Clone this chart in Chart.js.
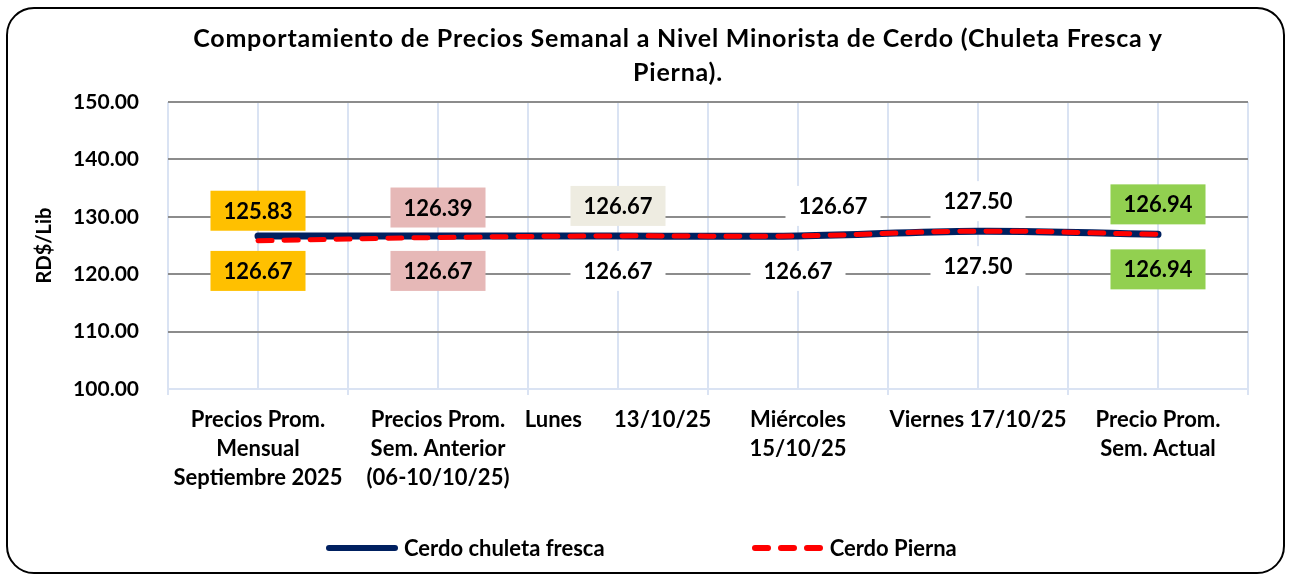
<!DOCTYPE html>
<html>
<head>
<meta charset="utf-8">
<script src="https://cdn.jsdelivr.net/npm/chart.js@4.4.1/dist/chart.umd.min.js"></script>
<style>
  html, body { margin: 0; padding: 0; background: #fff; overflow: hidden; }
  body { width: 1291px; height: 576px; position: relative; font-family: Lato, "Noto Sans", sans-serif; }
  #frame { position: absolute; left: 6px; top: 7px; width: 1275px; height: 563px; border: 2px solid #000; border-radius: 28px; pointer-events: none; }
  #title { position: absolute; left: 678px; top: 20px; transform: translateX(-50%); white-space: nowrap; text-align: center;
           font-weight: bold; font-size: 25px; letter-spacing: 0.8px; line-height: 34px; color: #000; }
  #chart { position: absolute; left: 0; top: 0; }
  #legend { position: absolute; left: 325px; top: 534px; display: flex; gap: 146px; font-weight: bold; font-size: 22px; color: #000; }
  .item { display: flex; align-items: center; }
  .item svg { margin-right: 5px; }
</style>
</head>
<body>
<canvas id="chart" width="1291" height="576"></canvas>
<div id="title">Comportamiento de Precios Semanal a Nivel Minorista de Cerdo (Chuleta Fresca y<br>Pierna).</div>
<div id="legend"></div>
<div id="frame"></div>
<script>
// categories
const categories = [
    ['Precios Prom.', 'Mensual', 'Septiembre 2025'],
    ['Precios Prom.', 'Sem. Anterior', '(06-10/10/25)'],
    ['Lunes      13/10/25'],
    ['Miércoles', '15/10/25'],
    ['Viernes 17/10/25'],
    ['Precio Prom.', 'Sem. Actual']
];
// RD$/Lib
const chuletaFresca = [126.67, 126.67, 126.67, 126.67, 127.50, 126.94];
const pierna = [125.83, 126.39, 126.67, 126.67, 127.50, 126.94];
const yTicks = [100, 110, 120, 130, 140, 150];

// label box colours (Excel style)
const piernaBoxes = ['#ffc000', '#e6b8b7', '#eeece1', '#ffffff', '#ffffff', '#92d050'];
const chuletaBoxes = ['#ffc000', '#e6b8b7', '#ffffff', '#ffffff', '#ffffff', '#92d050'];

const valueLabels = {
    id: 'valueLabels',
    afterDatasetsDraw(chart) {
        const ctx = chart.ctx;
        ctx.save();
        ctx.font = 'bold 22px Lato';
        ctx.textAlign = 'center';
        ctx.textBaseline = 'middle';
        chart.data.datasets.forEach((ds, i) => {
            chart.getDatasetMeta(i).data.forEach((pt, j) => {
                const text = ds.data[j].toFixed(2);
                const x = pt.x + (ds.labelShift ? ds.labelShift[j] : 0);
                const y = pt.y + ds.labelOffset;
                const w = ctx.measureText(text).width + 26, h = 40;
                ctx.fillStyle = ds.labelBoxes[j];
                ctx.fillRect(x - w / 2, y - h / 2, w, h);
                ctx.fillStyle = '#000';
                ctx.fillText(text, x, y + 1);
            });
        });
        ctx.restore();
    }
};

function draw() {
    const chart = new Chart(document.getElementById('chart'), {
        type: 'line',
        data: {
            labels: categories,
            datasets: [{
                label: 'Cerdo chuleta fresca',
                data: chuletaFresca,
                borderColor: '#002060',
                backgroundColor: '#002060',
                borderWidth: 7,
                borderCapStyle: 'round',
                tension: 0.4,
                pointRadius: 0,
                order: 1,
                labelOffset: 35,
                labelBoxes: chuletaBoxes
            }, {
                label: 'Cerdo Pierna',
                data: pierna,
                borderColor: '#ff0000',
                backgroundColor: '#ff0000',
                borderWidth: 5,
                borderDash: [14, 12],
                borderCapStyle: 'round',
                tension: 0.4,
                pointRadius: 0,
                order: 0,
                labelOffset: -30,
                labelShift: [0, 0, 0, 35, 0, 0],
                labelBoxes: piernaBoxes
            }]
        },
        options: {
            responsive: false,
            animation: false,
            layout: { padding: { left: 20, right: 43, top: 102, bottom: 60 } },
            plugins: {
                legend: { display: false },
                tooltip: { enabled: false }
            },
            scales: {
                x: {
                    offset: true,
                    grid: { color: '#dae3f3', lineWidth: 2, tickLength: 6, offset: true },
                    border: { color: '#dae3f3', width: 2 },
                    ticks: {
                        color: '#000',
                        font: { family: 'Lato', size: 22, weight: 'bold', lineHeight: 1.32 },
                        maxRotation: 0,
                        autoSkip: false,
                        padding: 10
                    },
                    afterFit(scale) { scale.height = 127; }
                },
                xc: {
                    type: 'category',
                    position: 'top',
                    offset: true,
                    grid: { color: '#dae3f3', lineWidth: 2, drawTicks: false, offset: false },
                    border: { display: false },
                    ticks: { display: false }
                },
                y: {
                    min: 100,
                    max: 150,
                    afterBuildTicks(scale) { scale.ticks = yTicks.map(v => ({ value: v })); },
                    grid: {
                        color: (c) => c.tick && c.tick.value === 100 ? 'rgba(0,0,0,0)' : '#8c8c8c',
                        lineWidth: 2,
                        drawTicks: false
                    },
                    border: { display: false },
                    ticks: {
                        color: '#000',
                        padding: 29,
                        font: { family: 'Lato', size: 21, weight: 'bold' },
                        callback: (v) => Number(v).toFixed(2)
                    },
                    title: {
                        display: true,
                        text: 'RD$/Lib',
                        color: '#000',
                        font: { family: 'Lato', size: 20, weight: 'bold' },
                        padding: { top: 13, bottom: 0 }
                    },
                    afterFit(scale) { scale.width = 148; }
                }
            }
        },
        plugins: [valueLabels]
    });

    // html legend built from the datasets
    const legend = document.getElementById('legend');
    chart.data.datasets.forEach(ds => {
        const item = document.createElement('div');
        item.className = 'item';
        const dash = ds.borderDash ? ' stroke-dasharray="13 13"' : '';
        item.innerHTML = '<svg width="74" height="12"><line x1="4" y1="6" x2="70" y2="6" stroke="' + ds.borderColor +
            '" stroke-width="6" stroke-linecap="round"' + dash + '/></svg><span>' + ds.label + '</span>';
        legend.appendChild(item);
    });
}

document.fonts.load('bold 20px Lato').then(draw, draw);
</script>
</body>
</html>
